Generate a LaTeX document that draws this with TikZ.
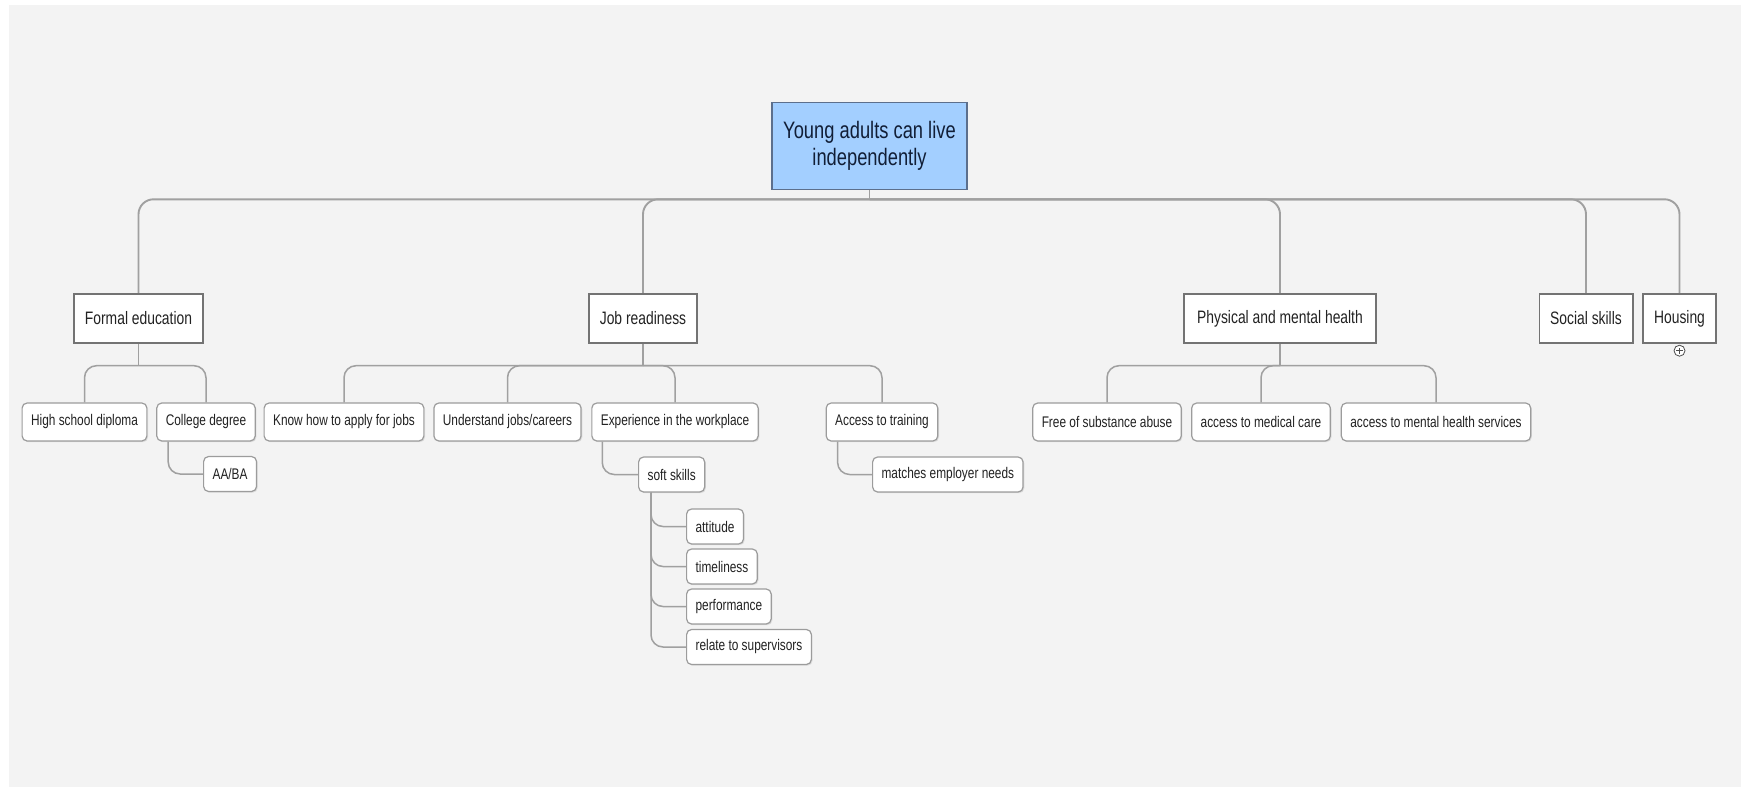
\documentclass[tikz,border=0pt]{standalone}
\usepackage{fontspec}
\setmainfont{Liberation Sans}[FakeStretch=0.77]
\usepackage{xcolor}
\usepackage{tikz}
\usetikzlibrary{positioning, shadows, backgrounds}

\definecolor{pagegray}{HTML}{F3F3F3}
\definecolor{rootblue}{HTML}{A3CFFF}
\definecolor{rootedge}{HTML}{5C6F8C}
\definecolor{linkgray}{HTML}{A0A0A0}
\definecolor{boxedge}{HTML}{737373}
\definecolor{subedge}{HTML}{9C9C9C}
\definecolor{inkgray}{HTML}{222222}
\definecolor{rootink}{HTML}{111E36}

\begin{document}
\begin{tikzpicture}[x=0.5pt, y=-0.5pt,
  link/.style={draw=linkgray, line width=0.95pt, rounded corners=7.5pt},
  sublink/.style={draw=linkgray, line width=0.75pt, rounded corners=6pt},
  rootbox/.style={draw=rootedge, fill=rootblue, line width=0.8pt, align=center, text=rootink,
    font=\fontsize{11.9}{13.5}\selectfont, inner xsep=5.5pt, minimum height=43.5pt},
  topicbox/.style={draw=boxedge, fill=white, line width=0.7pt, text=inkgray,
    font=\fontsize{9}{10}\selectfont, inner xsep=5.5pt, minimum height=24.5pt,
    drop shadow={shadow xshift=0.6pt, shadow yshift=-0.6pt, opacity=0.2}},
  subbox/.style={draw=subedge, fill=white, line width=0.6pt, rounded corners=2.5pt, text=inkgray,
    font=\fontsize{7.7}{8.5}\selectfont, inner xsep=4.5pt, minimum height=19pt,
    drop shadow={shadow xshift=0.6pt, shadow yshift=-0.6pt, opacity=0.2}},
  leafbox/.style={subbox, minimum height=17.5pt},
]
\useasboundingbox (0,0) rectangle (1741,787);

% central topic
\node[rootbox] (root) at (869.5,146) {Young adults can live\\independently};

% main topics
\node[topicbox] (formal) at (138.5,318.5) {Formal education};
\node[topicbox] (job) at (643,318.5) {Job readiness};
\node[topicbox, minimum width=96pt] (health) at (1280,318.5) {Physical and mental health};
\node[topicbox] (social) at (1586,318.5) {Social skills};
\node[topicbox] (housing) at (1679.5,318.5) {Housing};
\node[circle, draw=black!70, fill=white, inner sep=0pt, minimum size=5.5pt] (hplus) at ([yshift=-3.5pt]housing.south) {};
\draw[black!70, line width=0.4pt] ([xshift=-1.6pt]hplus.center) -- ([xshift=1.6pt]hplus.center)
  ([yshift=-1.6pt]hplus.center) -- ([yshift=1.6pt]hplus.center);

% subtopics
\node[subbox] (diploma) at (84.5,422) {High school diploma};
\node[subbox] (college) at (206,422) {College degree};
\node[subbox] (applyjobs) at (344,422) {Know how to apply for jobs};
\node[subbox] (careers) at (507.5,422) {Understand jobs/careers};
\node[subbox] (workplace) at (675,422) {Experience in the workplace};
\node[subbox] (training) at (882,422) {Access to training};
\node[subbox] (substance) at (1107,422) {Free of substance abuse};
\node[subbox] (medical) at (1261,422) {access to medical care};
\node[subbox] (mental) at (1436,422) {access to mental health services};

% third level
\node[leafbox, anchor=west] (aaba) at (203,474) {AA/BA};
\node[leafbox, anchor=west] (soft) at (638,474.5) {soft skills};
\node[leafbox, anchor=west] (employer) at (872,474.5) {matches employer needs};
\node[leafbox, anchor=west] (attitude) at (686,526.5) {attitude};
\node[leafbox, anchor=west] (timely) at (686,566.5) {timeliness};
\node[leafbox, anchor=west] (perform) at (686,606.5) {performance};
\node[leafbox, anchor=west] (supervise) at (686,647) {relate to supervisors};

\begin{scope}[on background layer]
\fill[white] (0,0) rectangle (1741,787);
\fill[pagegray] (9,5) rectangle (1741,787);

\draw[link] (root.south) -- ++(0,9) coordinate (rootbus);
\foreach \t in {formal,job,health,social,housing}
  \draw[link] (rootbus) -| (\t.north);

\draw[sublink] (formal.south) -- ++(0,22) coordinate (formalbus);
\foreach \t in {diploma,college}
  \draw[sublink] (formalbus) -| (\t.north);
\draw[sublink] (job.south) -- ++(0,22) coordinate (jobbus);
\foreach \t in {applyjobs,careers,workplace,training}
  \draw[sublink] (jobbus) -| (\t.north);
\draw[sublink] (health.south) -- ++(0,22) coordinate (healthbus);
\foreach \t in {substance,medical,mental}
  \draw[sublink] (healthbus) -| (\t.north);

\draw[sublink] ([xshift=6pt]college.south west) |- (aaba.west);
\draw[sublink] ([xshift=5.5pt]workplace.south west) |- (soft.west);
\draw[sublink] ([xshift=6pt]training.south west) |- (employer.west);
\foreach \t in {attitude,timely,perform,supervise}
  \draw[sublink] ([xshift=6.5pt]soft.south west) |- (\t.west);
\end{scope}
\end{tikzpicture}
\end{document}
